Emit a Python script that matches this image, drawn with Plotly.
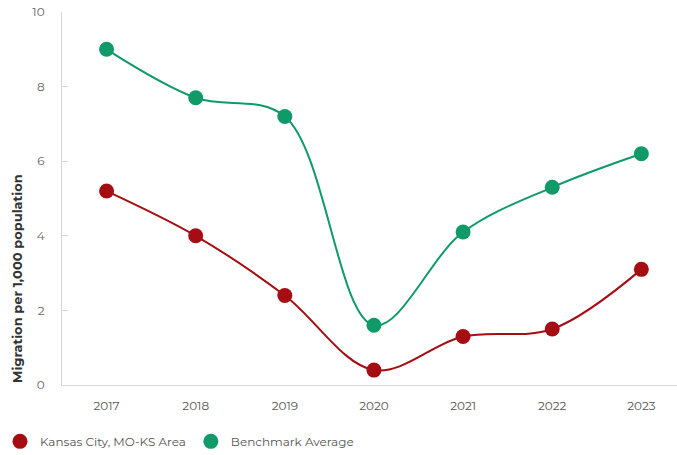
import plotly.graph_objects as go

years = ["2017", "2018", "2019", "2020", "2021", "2022", "2023"]
kansas_city = [5.2, 4.0, 2.4, 0.4, 1.3, 1.5, 3.1]
benchmark = [9.0, 7.7, 7.2, 1.6, 4.1, 5.3, 6.2]
y_ticks = [0, 2, 4, 6, 8, 10]

series = [
    ("Kansas City, MO-KS Area", kansas_city, "#a50d12"),
    ("Benchmark Average", benchmark, "#0f9a68"),
]

fig = go.Figure()
# smooth connecting curves (kept out of the legend)
for name, values, color in series:
    fig.add_trace(go.Scatter(
        x=years, y=values, mode="lines", showlegend=False, hoverinfo="skip",
        line=dict(color=color, width=2, shape="spline", smoothing=1),
    ))
# data points, which also provide the legend swatches
for name, values, color in series:
    fig.add_trace(go.Scatter(
        x=years, y=values, name=name, mode="markers",
        marker=dict(color=color, size=15),
    ))

fig.update_layout(
    width=677, height=455,
    margin=dict(l=62, r=0, t=12, b=70),
    plot_bgcolor="white", paper_bgcolor="white",
    font=dict(family="Montserrat, Open Sans, sans-serif", size=12, color="#555555"),
    showlegend=True,
    legend=dict(orientation="h", xref="container", yref="container",
                x=0.0, xanchor="left", y=0.03, yanchor="middle",
                font=dict(size=12, color="#555555"), itemsizing="trace",
                itemwidth=30, tracegroupgap=0),
    xaxis=dict(
        type="category", range=[-0.5, 6.4],
        showline=True, linecolor="#d6d6d6", linewidth=1,
        showgrid=False, ticks="", ticklabelstandoff=10,
        tickfont=dict(size=12, color="#555555"),
    ),
    yaxis=dict(
        range=[0, 10], tickvals=y_ticks,
        showline=True, linecolor="#d6d6d6", linewidth=1,
        showgrid=False, zeroline=False,
        ticks="inside", ticklen=6, tickcolor="#d6d6d6",
        tickfont=dict(size=12, color="#666666"), ticklabelstandoff=14,
    ),
    annotations=[dict(
        text="<b>Migration per 1,000 population</b>", textangle=-90,
        xref="paper", yref="paper", x=-0.074, y=0, xanchor="center", yanchor="bottom",
        showarrow=False, font=dict(size=13, color="#333333"),
    )],
)

fig.write_html("out.html")
